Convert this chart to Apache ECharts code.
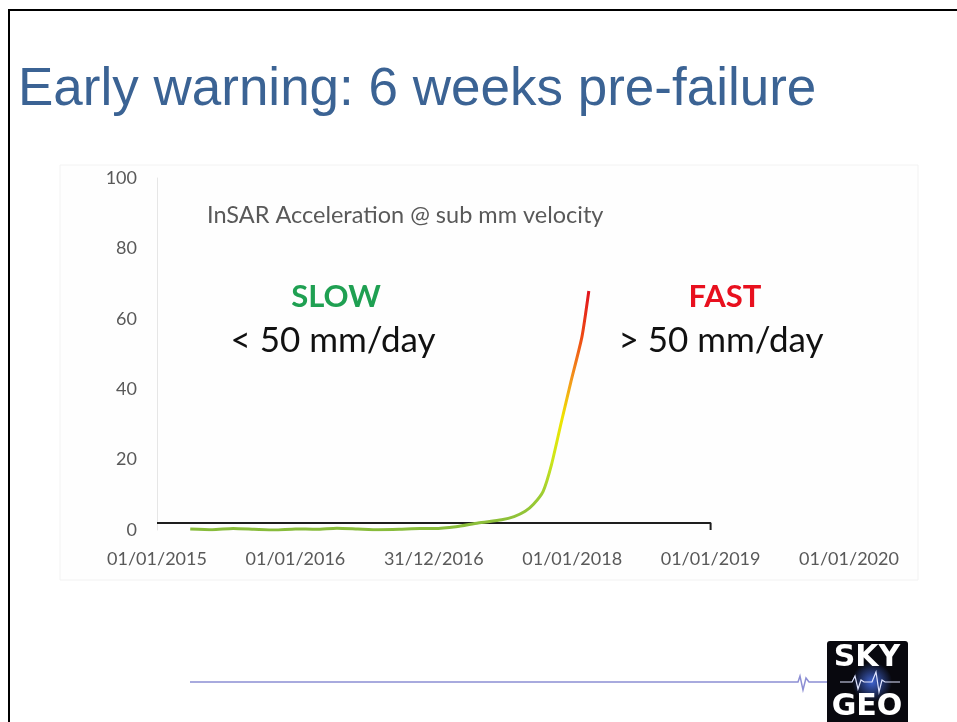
<!DOCTYPE html>
<html>
<head>
<meta charset="utf-8">
<script src="https://cdn.jsdelivr.net/npm/echarts@6/dist/echarts.min.js"></script>
<style>
  html, body { margin: 0; padding: 0; background: #fff; overflow: hidden; }
  #chart { width: 957px; height: 722px; }
</style>
</head>
<body>
<div id="chart"></div>
<script>
var myChart = echarts.init(document.getElementById('chart'));

// tick labels as printed on the original date axis
var xLabels = ['01/01/2015', '01/01/2016', '31/12/2016', '01/01/2018', '01/01/2019', '01/01/2020'];
var yTicks = [0, 20, 40, 60, 80, 100];

// InSAR acceleration (decimal year, value)
var years = [2015.24, 2015.40, 2015.55, 2015.70, 2015.85, 2016.00, 2016.15, 2016.30, 2016.45,
             2016.60, 2016.75, 2016.90, 2017.00, 2017.16, 2017.32, 2017.49, 2017.58, 2017.66,
             2017.72, 2017.79, 2017.85, 2017.92, 2017.99, 2018.07, 2018.12];
var accel = [0.3, 0.1, 0.4, 0.2, 0.0, 0.3, 0.2, 0.5, 0.3,
             0.1, 0.2, 0.4, 0.4, 0.9, 2.0, 2.9, 3.8, 5.3,
             7.3, 11.0, 18.5, 30.4, 42.0, 54.8, 67.9];

// black base line drawn under the curve (2015 -> 2019, with end tick)
var baseYears = [2015, 2019, 2019];
var baseVals = [2, 2, 0];

var curve = years.map(function (y, i) { return [y, accel[i]]; });
var base = baseYears.map(function (y, i) { return [y, baseVals[i]]; });

var labelFont = 'Lato, "Open Sans", sans-serif';

var option = {
    backgroundColor: '#ffffff',
    animation: false,
    grid: { left: 157, right: 108, top: 178, bottom: 192 },
    xAxis: {
        type: 'value',
        min: 2015,
        max: 2020,
        interval: 1,
        axisLine: { show: false },
        axisTick: { show: false },
        splitLine: { show: false },
        axisLabel: {
            showMinLabel: true,
            showMaxLabel: true,
            margin: 20,
            color: '#595959',
            fontSize: 18,
            fontFamily: labelFont,
            formatter: function (v) { return xLabels[Math.round(v - 2015)]; }
        }
    },
    yAxis: {
        type: 'value',
        min: yTicks[0],
        max: yTicks[yTicks.length - 1],
        interval: 20,
        axisLine: { show: true, lineStyle: { color: '#e6e6e6', width: 1 } },
        axisTick: { show: false },
        splitLine: { show: false },
        axisLabel: {
            margin: 20,
            color: '#595959',
            fontSize: 18,
            fontFamily: labelFont
        }
    },
    series: [
        {
            name: 'base',
            type: 'line',
            data: base,
            symbol: 'none',
            silent: true,
            lineStyle: { color: '#1e1e1e', width: 2 }
        },
        {
            name: 'InSAR',
            type: 'line',
            data: curve,
            symbol: 'none',
            smooth: 0.2,
            lineStyle: {
                width: 3,
                color: new echarts.graphic.LinearGradient(0, 0, 0, 1, [
                    { offset: 0, color: '#e0101e' },
                    { offset: 0.2, color: '#ee4a14' },
                    { offset: 0.38, color: '#f39a1c' },
                    { offset: 0.53, color: '#f0e400' },
                    { offset: 0.7, color: '#cde61a' },
                    { offset: 0.85, color: '#9ccc33' },
                    { offset: 1, color: '#86ba3c' }
                ])
            }
        }
    ],
    graphic: [
        // slide frame
        { type: 'rect', z: -10, shape: { x: 9, y: 10, width: 1100, height: 900 },
          style: { fill: '#ffffff', stroke: '#000000', lineWidth: 2 } },
        // chart panel
        { type: 'rect', z: -5, shape: { x: 60, y: 165, width: 858, height: 415 },
          style: { fill: '#fefefe', stroke: '#f2f2f2', lineWidth: 1 } },
        // title
        { type: 'text', left: 18, top: 64,
          style: { text: 'Early warning: 6 weeks pre-failure', fill: '#3b6394',
                   font: '53px "Liberation Sans", Arial, sans-serif' } },
        // annotations
        { type: 'text', x: 207, y: 215,
          style: { text: 'InSAR Acceleration @ sub mm velocity', fill: '#595959',
                   font: '23.5px ' + labelFont, verticalAlign: 'middle' } },
        { type: 'text', x: 336, y: 297,
          style: { text: 'SLOW', fill: '#1fa052', font: 'bold 31px ' + labelFont,
                   align: 'center', verticalAlign: 'middle' } },
        { type: 'text', x: 333, y: 341,
          style: { text: '< 50 mm/day', fill: '#111111', font: '35px ' + labelFont,
                   align: 'center', verticalAlign: 'middle' } },
        { type: 'text', x: 725, y: 297,
          style: { text: 'FAST', fill: '#e8101e', font: 'bold 31px ' + labelFont,
                   align: 'center', verticalAlign: 'middle' } },
        { type: 'text', x: 721, y: 341,
          style: { text: '> 50 mm/day', fill: '#111111', font: '35px ' + labelFont,
                   align: 'center', verticalAlign: 'middle' } },
        // footer line with seismic blip
        { type: 'polyline', shape: { points: [[190, 682], [798, 682], [800, 676], [803, 690], [806, 678], [809, 682], [827, 682]] },
          style: { stroke: '#8c8ed4', lineWidth: 1.5, fill: null } },
        // logo
        { type: 'rect', shape: { x: 827, y: 641, width: 81, height: 90, r: 3 },
          style: { fill: '#08080e' } },
        { type: 'circle', shape: { cx: 872, cy: 682, r: 20 },
          style: { fill: new echarts.graphic.RadialGradient(0.5, 0.5, 0.5, [
              { offset: 0, color: 'rgba(70,110,230,0.9)' },
              { offset: 1, color: 'rgba(70,110,230,0)' }
          ]) } },
        { type: 'polyline', shape: { points: [[840, 682], [852, 682], [855, 676], [858, 689], [861, 680], [864, 682], [872, 682], [876, 672], [879, 692], [882, 680], [885, 682], [900, 682]] },
          style: { stroke: '#dfe4ff', lineWidth: 1.2, fill: null } },
        { type: 'text', x: 867, y: 658,
          style: { text: 'SKY', fill: '#ffffff', font: 'bold 30px "DejaVu Sans", sans-serif',
                   align: 'center', verticalAlign: 'middle' } },
        { type: 'text', x: 867, y: 707,
          style: { text: 'GEO', fill: '#ffffff', font: 'bold 30px "DejaVu Sans", sans-serif',
                   align: 'center', verticalAlign: 'middle' } }
    ]
};

myChart.setOption(option);
</script>
</body>
</html>
